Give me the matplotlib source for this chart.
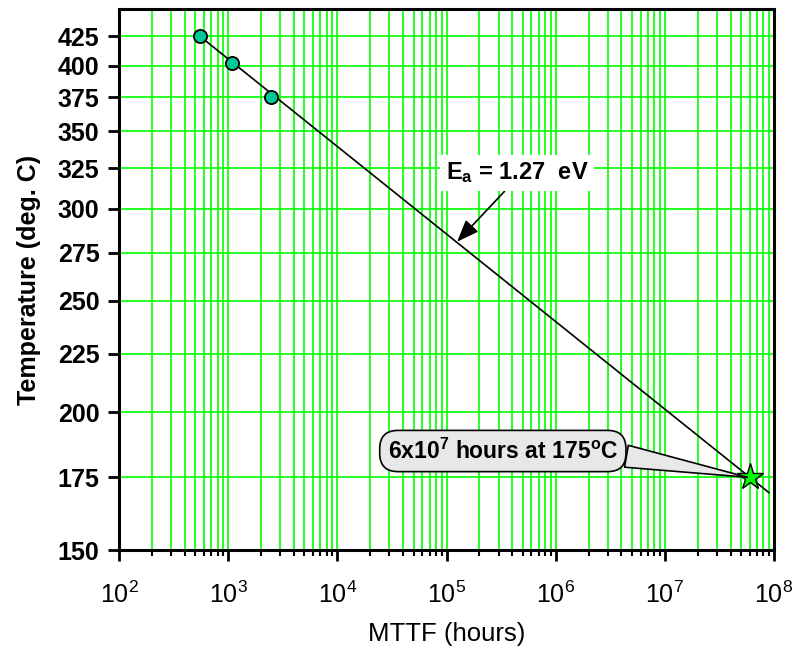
import numpy as np
import matplotlib
matplotlib.use('Agg')
import matplotlib.pyplot as plt
from matplotlib.ticker import LogLocator, LogFormatterMathtext, NullFormatter, FixedLocator

plt.rcParams['font.family'] = ['Liberation Sans', 'DejaVu Sans']
plt.rcParams['mathtext.fontset'] = 'custom'
plt.rcParams['mathtext.rm'] = 'Liberation Sans'
plt.rcParams['mathtext.it'] = 'Liberation Sans:italic'
plt.rcParams['mathtext.bf'] = 'Liberation Sans:bold'

# stress test points (hours, deg C)
test_hours = [552, 1085, 2460]
test_temps = [425, 402, 375]
# extrapolated use condition
use_hours = 6e7
use_temp = 175
line_end_hours = 9e7

hour_ticks = [1e2, 1e3, 1e4, 1e5, 1e6, 1e7, 1e8]
temp_ticks = [150, 175, 200, 225, 250, 275, 300, 325, 350, 375, 400, 425]


def inv_t(c):
    return -1.0 / (np.asarray(c, dtype=float) + 273.15)


def from_inv_t(v):
    return -1.0 / np.asarray(v, dtype=float) - 273.15


# Arrhenius line through first test point and the use point
x0, y0 = np.log10(test_hours[0]), inv_t(test_temps[0])
x1, y1 = np.log10(use_hours), inv_t(use_temp)
slope = (y1 - y0) / (x1 - x0)
line_hours = np.array([test_hours[0], line_end_hours])
line_temps = from_inv_t(y0 + slope * (np.log10(line_hours) - x0))

fig = plt.figure(figsize=(7.95, 6.54), dpi=100)
ax = fig.add_axes([0.1497, 0.159, 0.8239, 0.8272])
ax.set_xscale('log')
ax.set_yscale('function', functions=(inv_t, from_inv_t))
ax.set_xlim(1e2, 1e8)
ax.set_ylim(150, 450)

green = '#00ff00'
ax.xaxis.set_major_locator(FixedLocator(hour_ticks))
ax.xaxis.set_minor_locator(LogLocator(base=10, subs=np.arange(2, 10), numticks=100))
ax.xaxis.set_major_formatter(LogFormatterMathtext())
ax.xaxis.set_minor_formatter(NullFormatter())
ax.set_yticks(temp_ticks)
ax.set_yticklabels([str(t) for t in temp_ticks], fontweight='bold', fontsize=18)
ax.yaxis.set_minor_locator(plt.NullLocator())
ax.grid(True, which='both', axis='x', color=green, lw=1.2)
ax.grid(True, which='major', axis='y', color=green, lw=1.2)
ax.set_axisbelow(True)

ax.tick_params(axis='x', which='major', direction='out', length=8, width=2, labelsize=18, pad=15)
ax.tick_params(axis='x', which='minor', direction='out', length=4, width=1.5)
ax.tick_params(axis='y', which='major', direction='out', length=8, width=2, pad=6)
for s in ax.spines.values():
    s.set_linewidth(2.2)

ax.plot(line_hours, line_temps, color='black', lw=1.2, zorder=3)
ax.plot(test_hours, test_temps, 'o', ms=9.5, mfc='#00c896', mec='black', mew=1.3, zorder=4)
ax.plot([use_hours], [use_temp], '*', ms=20, mfc='#00ff00', mec='black', mew=1.0, zorder=5)

ax.set_xlabel('MTTF (hours)', fontsize=18.5, labelpad=10)
ax.set_ylabel('Temperature (deg. C)', fontsize=18, fontweight='bold', labelpad=12)

ax.annotate(r'E$_{\mathbf{a}}$ = 1.27  eV', xy=(1.25e5, 281), xycoords='data',
            xytext=(0.608, 0.697), textcoords='axes fraction',
            ha='center', va='center', fontsize=17, fontweight='bold',
            bbox=dict(boxstyle='square,pad=0.25', fc='white', ec='none'),
            arrowprops=dict(arrowstyle='-|>,head_length=0.9,head_width=0.35', color='black',
                            lw=1.2, mutation_scale=15, shrinkA=0, shrinkB=0,
                            relpos=(0.45, 0.0)),
            zorder=6)

ax.annotate(r'6x10$^{\mathbf{7}}$ hours at 175$^{\mathbf{o}}$C', xy=(use_hours * 0.95, use_temp),
            xycoords='data', xytext=(0.586, 0.183), textcoords='axes fraction',
            ha='center', va='center', fontsize=16.5, fontweight='bold',
            bbox=dict(boxstyle='round,pad=0.35,rounding_size=0.8', fc='#e8e8e8', ec='black', lw=1.2),
            arrowprops=dict(arrowstyle='wedge,tail_width=0.8', fc='#e8e8e8', ec='black',
                            lw=1.2, mutation_scale=20, shrinkA=0, shrinkB=0,
                            relpos=(1.0, 0.35)),
            zorder=6)

fig.savefig('out.png', dpi=100)
